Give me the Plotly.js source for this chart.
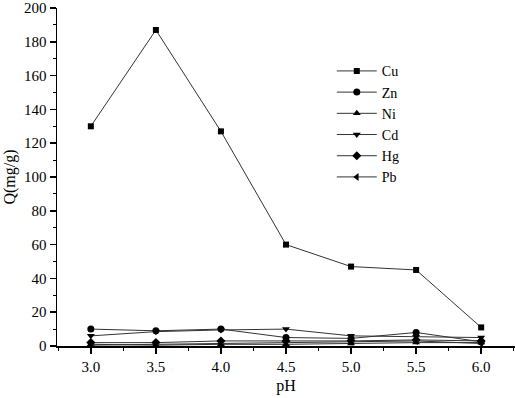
<!DOCTYPE html>
<html>
<head>
<meta charset="utf-8">
<script src="https://cdn.plot.ly/plotly-3.0.1.min.js"></script>
<style>html,body{margin:0;padding:0;background:#fff;}#chart{width:515px;height:398px;}</style>
</head>
<body>
<div id="chart"></div>
<script>
const pH = [3.0, 3.5, 4.0, 4.5, 5.0, 5.5, 6.0];
const Cu = [130, 187, 127, 60, 47, 45, 11];
const Zn = [10, 9, 10, 5, 4.5, 8, 2.5];
const Ni = [1, 0.5, 1, 1, 1.5, 2, 2];
const Cd = [6, 8.5, 9.5, 10, 6, 5.5, 5];
const Hg = [2, 2, 3, 3, 3, 3.6, 3];
const Pb = [0.5, 1, 1.5, 2, 2.5, 3, 1.5];
const names = ['Cu', 'Zn', 'Ni', 'Cd', 'Hg', 'Pb'];
const series = [Cu, Zn, Ni, Cd, Hg, Pb];
const symbols = ['square', 'circle', 'triangle-up', 'triangle-down', 'diamond', 'triangle-left'];
const sizes = [6, 7, 7, 7, 7, 7];

const traces = series.map((s, i) => ({
  x: pH, y: s, name: names[i], type: 'scatter', mode: 'lines+markers',
  line: {color: '#333', width: 1},
  marker: {symbol: symbols[i], color: '#000', size: sizes[i]}
}));

const font = {family: 'Liberation Serif, Times New Roman, serif', color: '#000'};
const layout = {
  width: 515, height: 398,
  margin: {l: 57, r: 0, t: 8, b: 52},
  paper_bgcolor: '#fff', plot_bgcolor: '#fff',
  font: Object.assign({size: 15}, font),
  showlegend: true,
  legend: {x: 0.6, y: 0.86, xanchor: 'left', yanchor: 'top', bgcolor: 'rgba(0,0,0,0)',
           font: Object.assign({size: 14}, font), tracegroupgap: 0, itemwidth: 40},
  xaxis: {
    range: [2.74, 6.26], dtick: 0.5, tick0: 3, tickformat: '.1f',
    showgrid: false, zeroline: false, showline: true, linecolor: '#000', linewidth: 1.5,
    ticks: 'outside', ticklen: 6, tickwidth: 1.5, tickcolor: '#000',
    minor: {dtick: 0.25, ticks: 'outside', ticklen: 3, tickwidth: 1, tickcolor: '#000'},
    tickfont: Object.assign({size: 15}, font),
    title: {text: 'pH', font: Object.assign({size: 16}, font), standoff: 6}
  },
  yaxis: {
    range: [0, 200], dtick: 20, tick0: 0,
    showgrid: false, zeroline: false, showline: true, linecolor: '#000', linewidth: 1.5,
    ticks: 'outside', ticklen: 6, tickwidth: 1.5, tickcolor: '#000',
    minor: {dtick: 10, ticks: 'outside', ticklen: 3, tickwidth: 1, tickcolor: '#000'},
    tickfont: Object.assign({size: 15}, font),
    title: {text: 'Q(mg/g)', font: Object.assign({size: 16}, font), standoff: 4}
  }
};
Plotly.newPlot('chart', traces, layout, {displayModeBar: false, staticPlot: true});
</script>
</body>
</html>
